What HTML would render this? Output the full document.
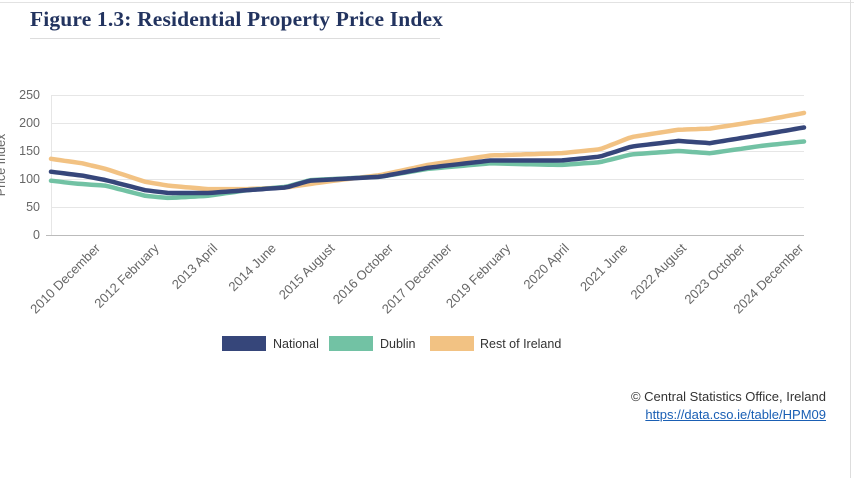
<!DOCTYPE html>
<html><head><meta charset="utf-8"><style>
body{margin:0;width:854px;height:478px;background:#fff;overflow:hidden;font-family:"Liberation Sans",sans-serif;position:relative}
.title{position:absolute;left:30px;top:7px;font-family:"Liberation Serif",serif;font-weight:bold;font-size:21.5px;color:#22335f;letter-spacing:0.15px}
.ul{position:absolute;left:30px;top:38px;width:410px;height:1px;background:#ddd}
.top{position:absolute;left:0;top:2px;width:854px;height:1px;background:#e2e2e2}
.rb{position:absolute;left:850px;top:0;width:1px;height:478px;background:#ddd}
.foot{position:absolute;right:28px;text-align:right;font-size:13px;color:#333}
</style></head><body>
<div class="top"></div><div class="rb"></div>
<div class="title">Figure 1.3: Residential Property Price Index</div>
<div class="ul"></div>
<svg id="s" width="854" height="478" style="position:absolute;left:0;top:0">
<g stroke="#e6e6e6" stroke-width="1">
<line x1="51" x2="804" y1="95.5" y2="95.5"/><line x1="51" x2="804" y1="123.5" y2="123.5"/>
<line x1="51" x2="804" y1="151.5" y2="151.5"/><line x1="51" x2="804" y1="179.5" y2="179.5"/>
<line x1="51" x2="804" y1="207.5" y2="207.5"/><line x1="51.5" x2="51.5" y1="95" y2="235"/>
</g>
<line x1="46" x2="804" y1="235.5" y2="235.5" stroke="#bbb"/>
<g font-size="12.5" fill="#666" text-anchor="end">
<text x="40" y="99">250</text><text x="40" y="127">200</text><text x="40" y="155">150</text>
<text x="40" y="183">100</text><text x="40" y="211">50</text><text x="40" y="239">0</text>
</g>
<text transform="translate(5,165) rotate(-90)" font-size="12.5" fill="#666" text-anchor="middle">Price Index</text>
<g id="lab" font-size="13" fill="#666" text-anchor="end"></g>
<g id="ser" fill="none" stroke-width="4.5" stroke-linecap="round" stroke-linejoin="round"></g>
<rect x="222" y="336" width="44" height="15" fill="#36467a"/><text x="273" y="348" font-size="12.5" fill="#333">National</text>
<rect x="329" y="336" width="44" height="15" fill="#72c2a4"/><text x="380" y="348" font-size="12.5" fill="#333">Dublin</text>
<rect x="430" y="336" width="44" height="15" fill="#f2c283"/><text x="480" y="348" font-size="12.5" fill="#333">Rest of Ireland</text>
</svg>
<div class="foot" style="top:389px">© Central Statistics Office, Ireland</div>
<div class="foot" style="top:407px;color:#1a5fb4;text-decoration:underline">https://data.cso.ie/table/HPM09</div>
<script>
var labs=["2010 December","2012 February","2013 April","2014 June","2015 August","2016 October","2017 December","2019 February","2020 April","2021 June","2022 August","2023 October","2024 December"];
var ns="http://www.w3.org/2000/svg",g=document.getElementById('lab');
function X(i){return 51+i*753/168;}
labs.forEach(function(l,k){var t=document.createElementNS(ns,'text');var x=101+k*58.6,y=249;
t.setAttribute('x',x);t.setAttribute('y',y);t.setAttribute('transform','rotate(-45 '+x+' '+y+')');t.textContent=l;g.appendChild(t);});
var S=[
["#f2c283",[[0,136],[8,128],[14,118],[24,95],[30,88],[40,82],[50,82],[60,85],[70,95],[84,107],[96,125],[112,142],[130,146],[140,153],[148,175],[160,188],[168,190],[182,205],[192,218]]],
["#72c2a4",[[0,97],[6,92],[14,88],[24,70],[30,66],[40,70],[50,80],[60,86],[66,98],[84,104],[96,118],[112,128],[130,125],[140,130],[148,144],[160,150],[168,146],[182,160],[192,167]]],
["#36467a",[[0,113],[8,106],[14,98],[24,80],[30,75],[40,75],[50,80],[60,85],[66,97],[84,104],[96,120],[112,133],[130,133],[140,140],[148,158],[160,168],[168,164],[182,180],[192,192]]]
];
var sg=document.getElementById('ser');
S.forEach(function(s){var k=s[1],pts=[];
for(var i=0;i<=168;i++){var m=i*192/168,j=0;while(j<k.length-2&&k[j+1][0]<m)j++;
var a=k[j],b=k[j+1],v=a[1]+(b[1]-a[1])*(m-a[0])/(b[0]-a[0]);pts.push(X(i).toFixed(1)+','+(235-v*0.56).toFixed(1));}
var p=document.createElementNS(ns,'polyline');p.setAttribute('points',pts.join(' '));p.setAttribute('stroke',s[0]);sg.appendChild(p);});
</script>
</body></html>
